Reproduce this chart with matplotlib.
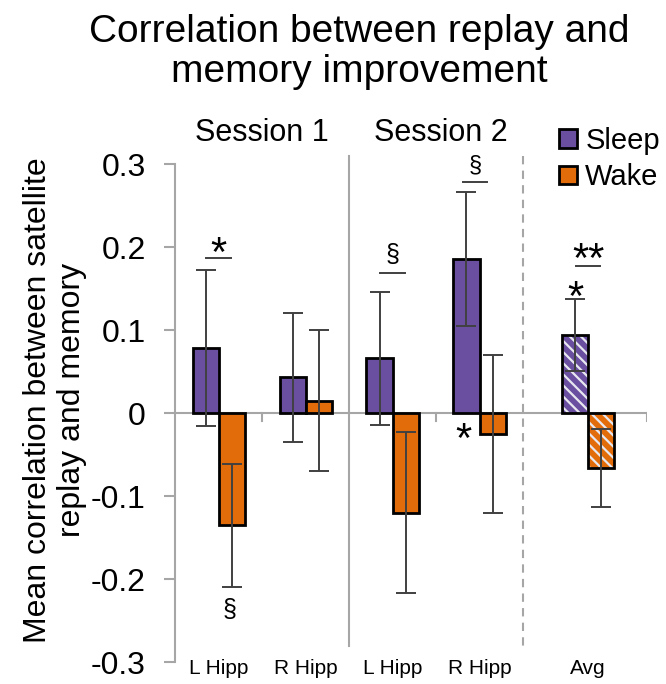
import matplotlib
matplotlib.use("Agg")
import matplotlib.pyplot as plt
from matplotlib.patches import Patch

plt.rcParams['font.family'] = ['Liberation Sans', 'DejaVu Sans']
plt.rcParams['hatch.linewidth'] = 1.6

# data
regions = ["L Hipp", "R Hipp", "L Hipp", "R Hipp", "Avg"]
sessions = ["Session 1", "Session 2"]
sleep_mean = [0.078, 0.043, 0.066, 0.186, 0.094]
sleep_err = [0.094, 0.078, 0.080, 0.081, 0.043]
wake_mean = [-0.135, 0.015, -0.120, -0.025, -0.066]
wake_err = [0.074, 0.085, 0.097, 0.095, 0.047]

purple = "#6A4EA0"
orange = "#E36C0A"
grey = "#A6A6A6"
ecol = "#404040"

xpos = [0, 1, 2, 3, 4.25]
w = 0.3

fig = plt.figure(figsize=(6.66, 6.84), dpi=100)
ax = fig.add_axes([0.263, 0.032, 0.709, 0.728])
ax.set_xlim(-0.5, 4.93)
ax.set_ylim(-0.3, 0.3)

for i, x in enumerate(xpos):
    hatched = regions[i] == "Avg"
    for val, err, col, dx in [(sleep_mean[i], sleep_err[i], purple, -w / 2),
                              (wake_mean[i], wake_err[i], orange, w / 2)]:
        if hatched:
            ax.bar(x + dx, val, w, color=col, edgecolor="#E8E8F0", hatch="\\\\\\", linewidth=0, zorder=2)
            ax.bar(x + dx, val, w, facecolor="none", edgecolor="black", linewidth=2, zorder=3)
        else:
            ax.bar(x + dx, val, w, color=col, edgecolor="black", linewidth=2, zorder=3)
        ax.errorbar(x + dx, val, yerr=err, fmt="none", ecolor=ecol, elinewidth=1.4,
                    capsize=7, capthick=1.4, zorder=4)

# axis lines
ax.axhline(0, color=grey, lw=1.5, zorder=1)
for xt in [0.5, 2.5, 4.93]:
    ax.plot([xt, xt], [0, -0.01], color=grey, lw=1.5, zorder=1)
ax.plot([1.5, 1.5], [0.31, -0.28], color=grey, lw=1.5, clip_on=False, zorder=1)
ax.plot([3.5, 3.5], [0.31, -0.28], color=grey, lw=1.5, ls=(0, (4, 3)), clip_on=False, zorder=1)

for s in ["top", "right", "bottom"]:
    ax.spines[s].set_visible(False)
ax.spines["left"].set_color(grey)
ax.spines["left"].set_linewidth(1.5)
ax.set_yticks([-0.3, -0.2, -0.1, 0, 0.1, 0.2, 0.3])
ax.set_yticklabels(["-0.3", "-0.2", "-0.1", "0", "0.1", "0.2", "0.3"])
ax.tick_params(axis="y", colors=grey, labelcolor="black", labelsize=23, length=8, width=1.5, pad=13)
ax.set_xticks([])
fig.text(55 / 666, 1 - 400 / 684, "Mean correlation between satellite\nreplay and memory",
         rotation=90, ha="center", va="center", fontsize=23, linespacing=1.15)

for x, lab in zip(xpos, regions):
    ax.text(x, -0.308, lab, ha="center", va="center", fontsize=15, clip_on=False)

ax.text(0.5, 0.338, sessions[0], ha="center", va="center", fontsize=22, clip_on=False)
ax.text(2.55, 0.338, sessions[1], ha="center", va="center", fontsize=22, clip_on=False)

fig.text(0.54, 1 - 52 / 684, "Correlation between replay and\nmemory improvement",
         ha="center", va="center", fontsize=28, linespacing=1.16)

# significance marks
def mark(x, y, s, off=0.016, line=True, size=30):
    ax.text(x, y, s, ha="center", va="center", fontsize=size, clip_on=False)
    if line:
        ax.plot([x - 0.14, x + 0.14], [y - off, y - off], color="#404040", lw=1.4, clip_on=False)

mark(0, 0.191, "*", off=0.004)
mark(0.13, -0.237, "\u00a7", line=False, size=18)
mark(2.0, 0.19, "\u00a7", off=0.021, size=18)
mark(2.95, 0.298, "\u00a7", off=0.019, size=17)
mark(2.81, -0.034, "*", line=False)
mark(4.25, 0.183, "**", off=0.006)
mark(4.1, 0.138, "*", line=False)

handles = [Patch(facecolor=purple, edgecolor="black", linewidth=2),
           Patch(facecolor=orange, edgecolor="black", linewidth=2)]
fig.legend(handles, ["Sleep", "Wake"], loc="upper left", bbox_to_anchor=(0.822, 0.832),
           frameon=False, fontsize=21, handlelength=0.6, handleheight=0.6,
           handletextpad=0.3, labelspacing=0.3, borderaxespad=0)

fig.savefig("out.png", dpi=100)
